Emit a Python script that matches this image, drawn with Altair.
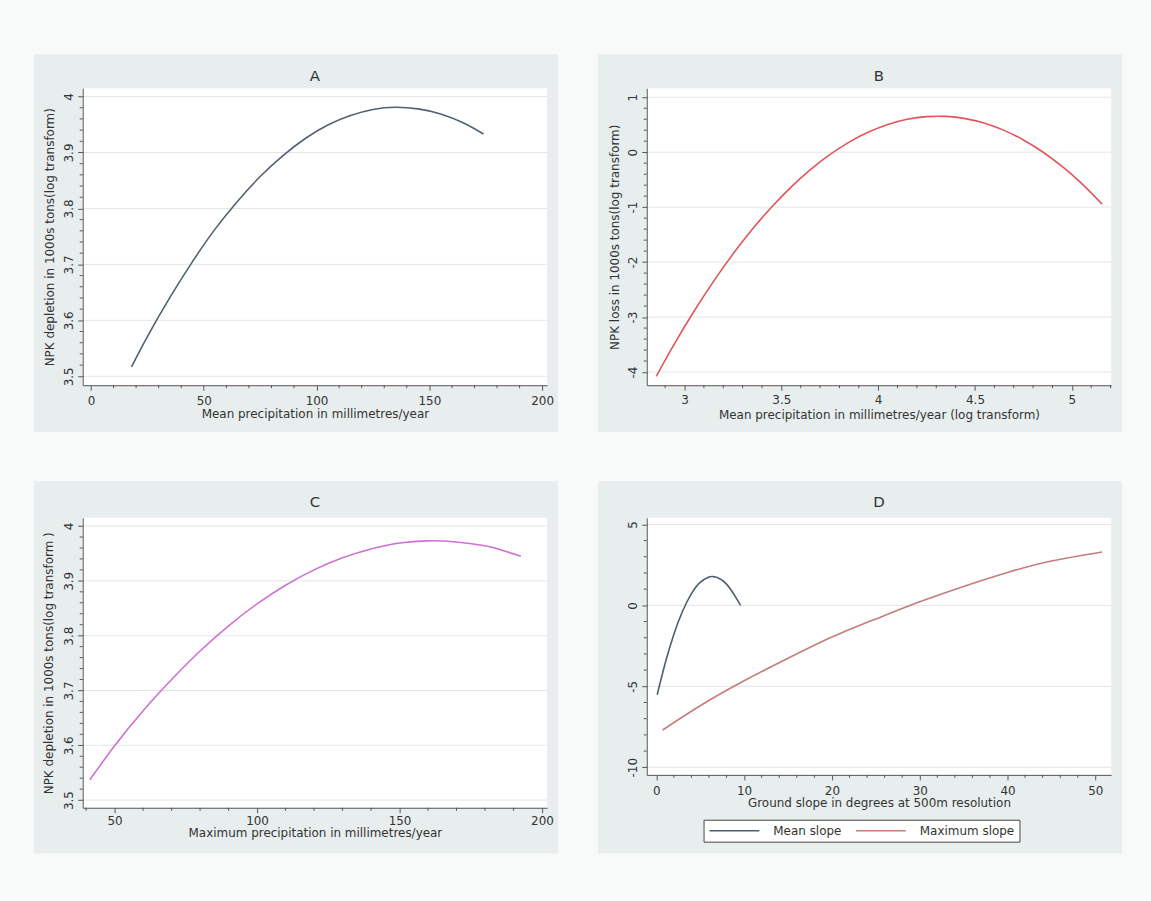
import altair as alt
import pandas as pd

FONT = "DejaVu Sans"
TXT = "#333333"
AX = "#555555"
GRID = "#e1e7e8"
PANEL_BG = "#e8eeee"
OUTER_BG = "#f8faf9"
W = 466

# ---------------- data ----------------
# Panel A
a_x = [18, 25, 35, 45, 55, 65, 75, 85, 95, 105, 115, 125, 135, 145, 155, 165, 174]
a_y = [3.517, 3.571, 3.641, 3.705, 3.763, 3.813, 3.857, 3.894, 3.925, 3.949,
       3.966, 3.977, 3.981, 3.978, 3.969, 3.953, 3.933]
# Panel B
b_x = [2.854, 2.95, 3.05, 3.15, 3.25, 3.35, 3.45, 3.55, 3.65, 3.75, 3.85, 3.95,
       4.05, 4.15, 4.25, 4.35, 4.45, 4.55, 4.65, 4.75, 4.85, 4.95, 5.05, 5.157]
b_y = [-4.08, -3.475, -2.890, -2.350, -1.854, -1.403, -0.997, -0.635, -0.318, -0.045,
       0.183, 0.366, 0.504, 0.598, 0.647, 0.651, 0.611, 0.526, 0.397, 0.223,
       0.004, -0.260, -0.568, -0.947]
# Panel C
c_x = [41.3, 50, 60, 70, 80, 90, 100, 110, 120, 130, 140, 150, 160, 170, 180, 186, 192.6]
c_y = [3.537, 3.599, 3.663, 3.720, 3.772, 3.818, 3.858, 3.892, 3.920, 3.942,
       3.958, 3.969, 3.973, 3.971, 3.964, 3.956, 3.945]
# Panel D
d_mean_x = [0.1, 1, 2, 3, 4, 5, 6, 6.4, 7, 8, 9, 9.6]
d_mean_y = [-5.52, -3.59, -1.78, -0.35, 0.72, 1.42, 1.75, 1.78, 1.71, 1.31, 0.54, 0.0]
d_max_x = [0.72, 5, 10, 15, 20, 25, 30, 35, 40, 45, 50.76]
d_max_y = [-7.70, -6.20, -4.66, -3.27, -1.96, -0.84, 0.22, 1.17, 2.03, 2.74, 3.30]
d_series = ["Mean slope", "Maximum slope"]
d_colors = ["#4f5d72", "#c67c7a"]

# tick labels
a_xmaj = [0, 50, 100, 150, 200]
a_ymaj = [3.5, 3.6, 3.7, 3.8, 3.9, 4.0]
b_xmaj = [3, 3.5, 4, 4.5, 5]
b_ymaj = [-4, -3, -2, -1, 0, 1]
c_xmaj = [50, 100, 150, 200]
c_ymaj = [3.5, 3.6, 3.7, 3.8, 3.9, 4.0]
d_xmaj = [0, 10, 20, 30, 40, 50]
d_ymaj = [-10, -5, 0, 5]


def minors(start, step, count, every):
    return [round(start + step * i, 4) for i in range(count) if i % every]


a_xmin = minors(0, 10, 21, 5)
a_ymin = minors(3.5, 0.02, 26, 5)
b_xmin = [2.9] + minors(3.0, 0.1, 23, 5)
b_ymin = minors(-4, 0.2, 26, 5)
c_xmin = [40] + minors(50, 10, 16, 5)
c_ymin = minors(3.5, 0.02, 26, 5)
d_xmin = minors(0, 2, 26, 5)
d_ymin = minors(-10, 1, 16, 5)


def major_axis(values, orient, title, lab_pad, title_pad):
    kw = dict(values=values, orient=orient, zindex=1, labelExpr="'' + datum.value",
              labelFont=FONT, labelFontSize=12, labelColor=TXT,
              titleFont=FONT, titleFontSize=12, titleFontWeight="normal", titleColor=TXT,
              domainColor=AX, tickColor=AX, tickSize=5, tickWidth=1, grid=False,
              labelPadding=lab_pad, titlePadding=title_pad,
              labelFlush=False, labelOverlap=False, title=title)
    if orient == "left":
        kw.update(labelAngle=270, labelAlign="center", labelBaseline="bottom")
    return alt.Axis(**kw)


def panel(df, xdom, ydom, xmaj, xmin, ymaj, ymin, xtitle, ytitle, title, height,
          rect_top, rect_bottom, xpad, xtpad, ytpad, title_off,
          color=None, line_color=None):
    one = pd.DataFrame({"k": [0]})
    bg = alt.Chart(one).mark_rect(color=PANEL_BG).encode(
        x=alt.value(-49), x2=alt.value(477), y=alt.value(rect_top), y2=alt.value(rect_bottom))
    plotbg = alt.Chart(one).mark_rect(color="white").encode(
        x=alt.value(0), x2=alt.value(W), y=alt.value(0), y2=alt.value(height))
    xs = alt.Scale(domain=xdom, nice=False, zero=False)
    ys = alt.Scale(domain=ydom, nice=False, zero=False)
    grid = alt.Chart(pd.DataFrame({"y": ymaj})).mark_rule(color=GRID, strokeWidth=1).encode(
        y=alt.Y("y:Q", scale=ys), x=alt.value(0), x2=alt.value(W))
    enc = dict(
        x=alt.X("x:Q", scale=xs, axis=major_axis(xmaj, "bottom", xtitle, xpad, xtpad)),
        y=alt.Y("y:Q", scale=ys, axis=major_axis(ymaj, "left", ytitle, 2, ytpad)),
    )
    if color is not None:
        enc["color"] = color
        line = alt.Chart(df).mark_line(strokeWidth=1.6, interpolate="natural").encode(**enc)
    else:
        line = alt.Chart(df).mark_line(strokeWidth=1.6, color=line_color,
                                       interpolate="natural").encode(**enc)
    xminor = alt.Chart(pd.DataFrame({"x": xmin})).mark_rule(color=AX, strokeWidth=1).encode(
        x=alt.X("x:Q", scale=xs), y=alt.value(height), y2=alt.value(height + 3))
    yminor = alt.Chart(pd.DataFrame({"y": ymin})).mark_rule(color=AX, strokeWidth=1).encode(
        y=alt.Y("y:Q", scale=ys), x=alt.value(-3), x2=alt.value(0))
    return alt.layer(bg, plotbg, grid, line, xminor, yminor).properties(
        width=W, height=height,
        title=alt.Title(title, font=FONT, fontSize=15, fontWeight="normal", color=TXT,
                        anchor="middle", frame="group", baseline="bottom", offset=title_off),
    )


df_a = pd.DataFrame({"x": a_x, "y": a_y})
df_b = pd.DataFrame({"x": b_x, "y": b_y})
df_c = pd.DataFrame({"x": c_x, "y": c_y})
df_d = pd.concat([
    pd.DataFrame({"x": d_mean_x, "y": d_mean_y, "series": d_series[0]}),
    pd.DataFrame({"x": d_max_x, "y": d_max_y, "series": d_series[1]}),
], ignore_index=True)

pA = panel(df_a, [-3.67, 202.2], [3.484, 4.0148], a_xmaj, a_xmin, a_ymaj, a_ymin,
           "Mean precipitation in millimetres/year",
           "NPK depletion in 1000s tons(log transform)", "A", 298, -34, 345,
           5, 2, 6, -45, line_color="#526075")
pB = panel(df_b, [2.805, 5.203], [-4.24, 1.163], b_xmaj, b_xmin, b_ymaj, b_ymin,
           "Mean precipitation in millimetres/year (log transform)",
           "NPK loss in 1000s tons(log transform)", "B", 298, -34, 345,
           4, 4, 5, -45, line_color="#e2555b")
pC = panel(df_c, [38.8, 201.8], [3.486, 4.0151], c_xmaj, c_xmin, c_ymaj, c_ymin,
           "Maximum precipitation in millimetres/year",
           "NPK depletion in 1000s tons(log transform )", "C", 291, -37, 337,
           3, 1, 7, -44, line_color="#d070d4")
d_color = alt.Color(
    "series:N", sort=d_series,
    scale=alt.Scale(domain=d_series, range=d_colors),
    legend=alt.Legend(title=None, orient="none", legendX=57, legendY=303,
                      direction="horizontal", symbolType="M-5,0H5", symbolSize=100,
                      symbolOffset=20, symbolStrokeWidth=1.6, labelFont=FONT,
                      labelFontSize=12, labelColor=TXT, labelOffset=33,
                      columnPadding=10, padding=5,
                      strokeColor="#444444", fillColor="white"),
)
pD = panel(df_d, [-1.09, 51.8], [-10.47, 5.41], d_xmaj, d_xmin, d_ymaj, d_ymin,
           "Ground slope in degrees at 500m resolution", None, "D", 258, -37, 337,
           6, 1, 6, -44, color=d_color)

chart = alt.vconcat(
    alt.hconcat(pA, pB, spacing=38).resolve_legend(color="independent"),
    alt.hconcat(pC, pD, spacing=38).resolve_legend(color="independent"),
    spacing=47,
).resolve_legend(color="independent").properties(
    padding={"left": 33, "top": 52, "right": 28, "bottom": 49},
    background=OUTER_BG,
).configure_view(stroke="transparent")

chart.save("out.html", embed_options={"renderer": "svg", "actions": False})
